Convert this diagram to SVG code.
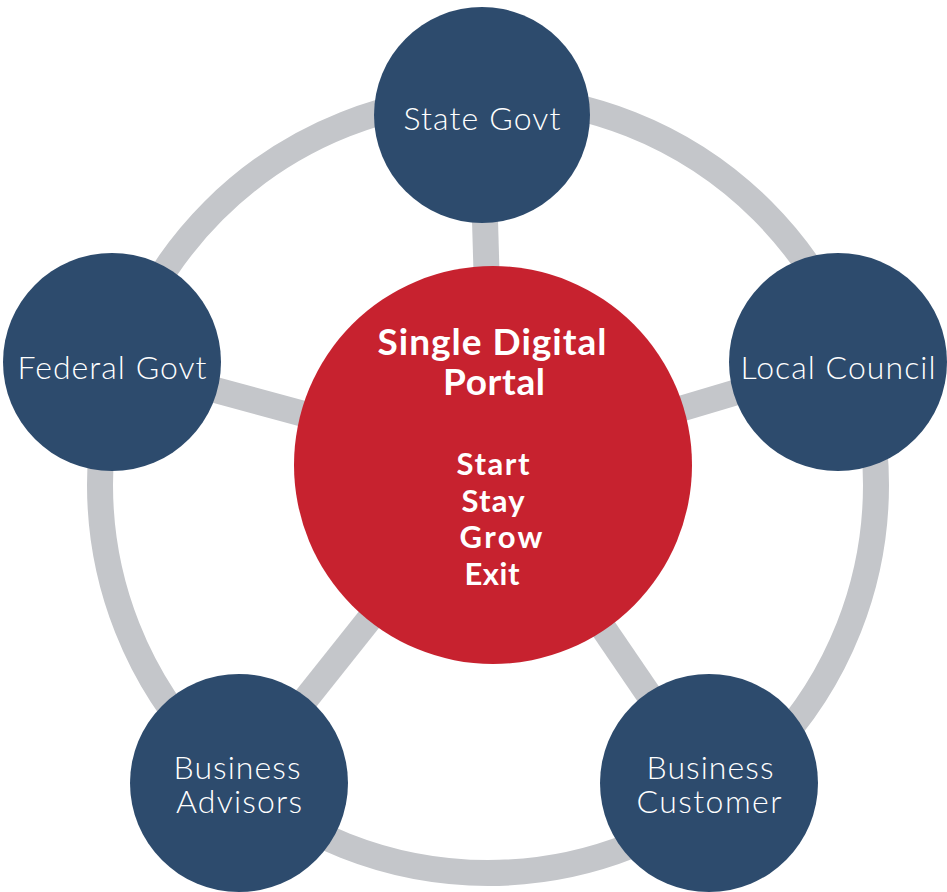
<svg xmlns="http://www.w3.org/2000/svg" width="947" height="892" viewBox="0 0 947 892">
  <style>
    .link { stroke: #c4c6ca; stroke-width: 26; fill: none; }
    .node { fill: #2d4b6d; }
    .hub { fill: #c7222f; }
    .lbl { font-family: Lato, "Open Sans", "Liberation Sans", sans-serif; font-weight: 300; font-size: 32px; fill: #ffffff; text-anchor: middle; }
    .hubt { font-family: Lato, "Open Sans", "Liberation Sans", sans-serif; font-weight: 700; fill: #ffffff; text-anchor: middle; }
  </style>
  <rect width="947" height="892" fill="#ffffff"/>
  <g id="connectors">
    <circle class="link" cx="488" cy="485" r="388"/>
    <line class="link" x1="492" y1="465" x2="482" y2="115"/>
    <line class="link" x1="492" y1="465" x2="112" y2="362"/>
    <line class="link" x1="492" y1="465" x2="838" y2="362"/>
    <line class="link" x1="492" y1="465" x2="239" y2="783"/>
    <line class="link" x1="492" y1="465" x2="709" y2="783"/>
  </g>
  <g id="state-govt">
    <circle class="node" cx="482" cy="115" r="108"/>
    <text class="lbl" x="482" y="130" textLength="157">State Govt</text>
  </g>
  <g id="federal-govt">
    <circle class="node" cx="112" cy="362" r="109"/>
    <text class="lbl" x="112" y="379" textLength="189">Federal Govt</text>
  </g>
  <g id="local-council">
    <circle class="node" cx="838" cy="362" r="109"/>
    <text class="lbl" x="838" y="379" textLength="195">Local Council</text>
  </g>
  <g id="business-advisors">
    <circle class="node" cx="239" cy="783" r="109"/>
    <text class="lbl" x="237" y="779" textLength="127">Business</text>
    <text class="lbl" x="239" y="813" textLength="126">Advisors</text>
  </g>
  <g id="business-customer">
    <circle class="node" cx="709" cy="783" r="109"/>
    <text class="lbl" x="710" y="779" textLength="127">Business</text>
    <text class="lbl" x="709" y="813" textLength="145">Customer</text>
  </g>
  <g id="single-digital-portal">
    <circle class="hub" cx="493" cy="465" r="199"/>
    <text class="hubt" x="492" y="355" font-size="37" textLength="229">Single Digital</text>
    <text class="hubt" x="494" y="395" font-size="37" textLength="102">Portal</text>
    <text class="hubt" x="493" y="475" font-size="31" textLength="73">Start</text>
    <text class="hubt" x="493" y="512" font-size="31" textLength="63">Stay</text>
    <text class="hubt" x="501" y="548" font-size="31" textLength="83">Grow</text>
    <text class="hubt" x="492" y="585" font-size="31" textLength="55">Exit</text>
  </g>
</svg>
